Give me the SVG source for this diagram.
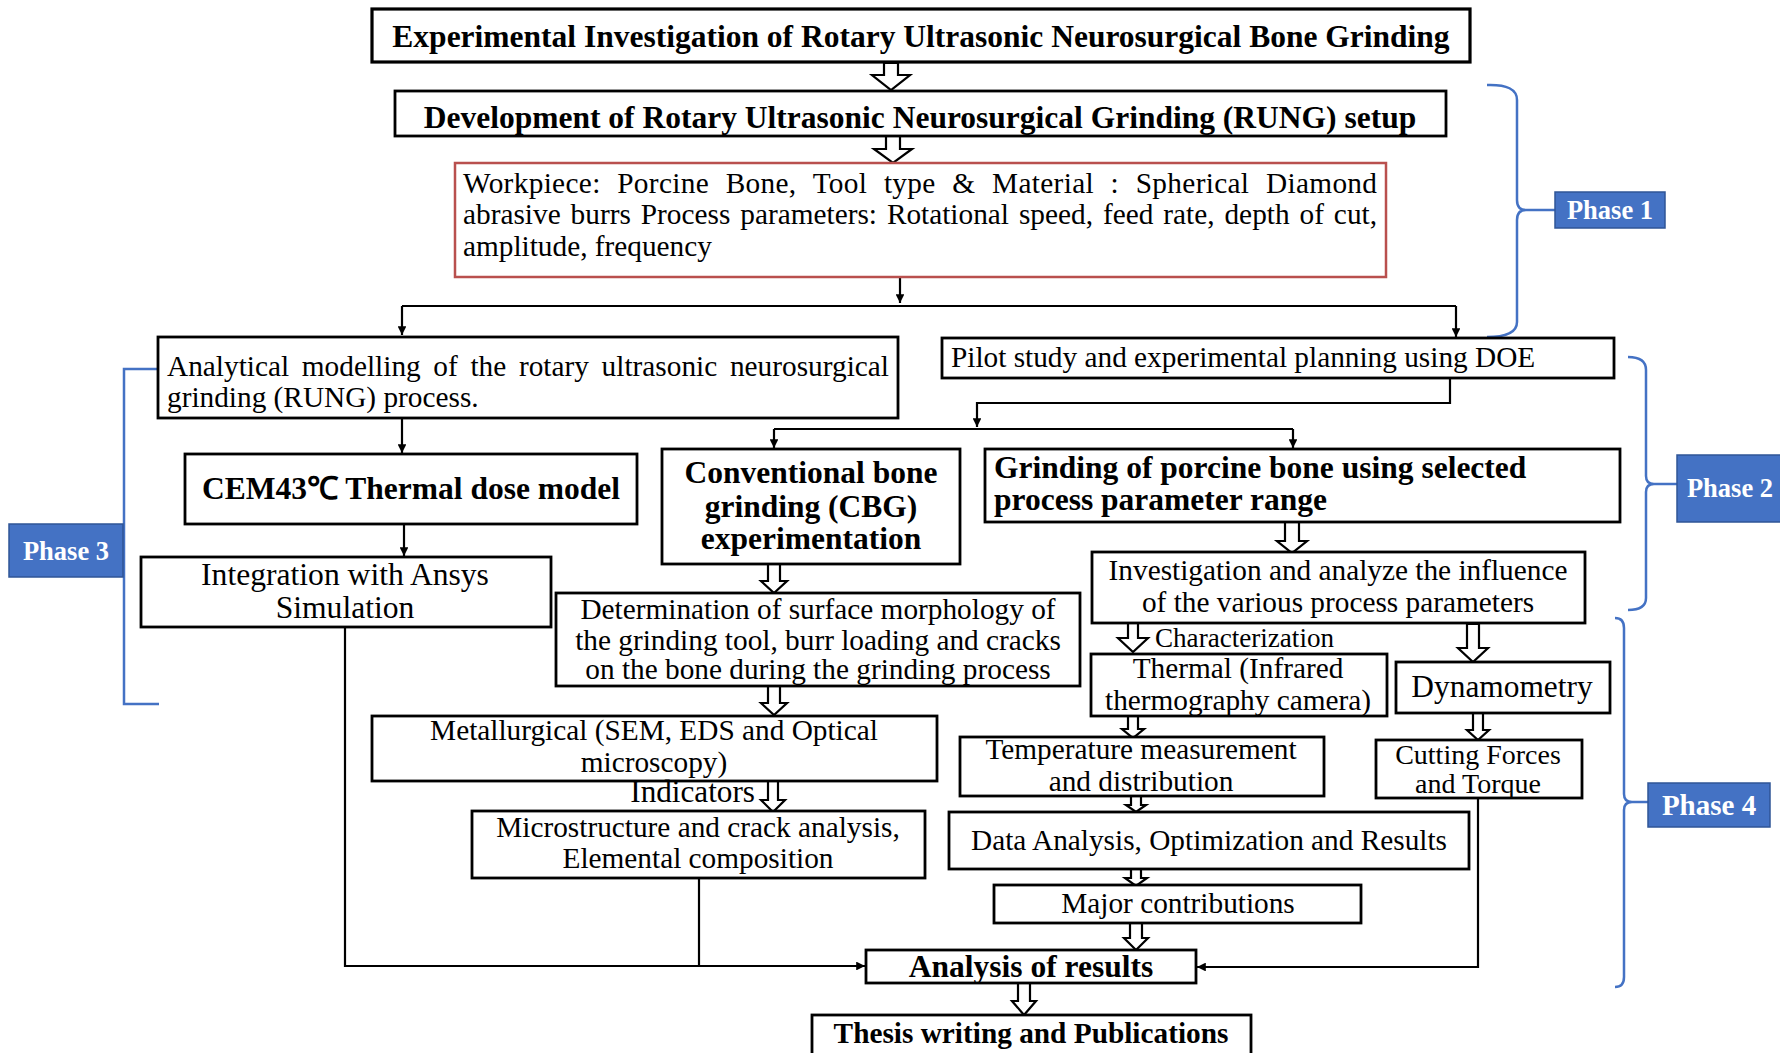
<svg xmlns="http://www.w3.org/2000/svg" width="1780" height="1053" viewBox="0 0 1780 1053">
<defs>
<marker id="ah" viewBox="0 0 10 10" refX="10" refY="5" markerWidth="4" markerHeight="4" orient="auto" markerUnits="strokeWidth">
<path d="M0,0 L10,5 L0,10 z" fill="#000"/>
</marker>
<style>
.box{fill:#fff;stroke:#000;stroke-width:2.8}
.rbox{fill:#fff;stroke:#b9504e;stroke-width:2.5}
.t{font-family:"Liberation Serif","Times New Roman",serif;font-size:29.3px;fill:#000}
.b{font-family:"Liberation Serif","Times New Roman",serif;font-weight:bold;font-size:31.5px;fill:#000}
.c{text-anchor:middle}
.conn{fill:none;stroke:#000;stroke-width:2.2}
.ha{fill:#fff;stroke:#000;stroke-width:2.2;stroke-linejoin:miter}
.brace{fill:none;stroke:#4472c4;stroke-width:2.5}
.pbox{fill:#4472c4;stroke:#2f5597;stroke-width:1.5}
.pt{font-family:"Liberation Serif","Times New Roman",serif;font-weight:bold;font-size:26.5px;fill:#fff;text-anchor:middle}
</style>
</defs>
<rect width="1780" height="1053" fill="#fff"/>

<g id="connectors">
<path class="conn" d="M900,277 V303" marker-end="url(#ah)"/>
<path class="conn" d="M402,306 H1456"/>
<path class="conn" d="M402,306 V335" marker-end="url(#ah)"/>
<path class="conn" d="M1456,306 V337" marker-end="url(#ah)"/>
<path class="conn" d="M1450,378 V403 H977 V427" marker-end="url(#ah)"/>
<path class="conn" d="M774,429 H1293"/>
<path class="conn" d="M774,429 V448" marker-end="url(#ah)"/>
<path class="conn" d="M1293,429 V448" marker-end="url(#ah)"/>
<path class="conn" d="M402,418 V453" marker-end="url(#ah)"/>
<path class="conn" d="M404,524 V556" marker-end="url(#ah)"/>
<path class="conn" d="M345,627 V966 H865" marker-end="url(#ah)"/>
<path class="conn" d="M699,878 V966"/>
<path class="conn" d="M1478,798 V967 H1197" marker-end="url(#ah)"/>
<polygon class="ha" points="884,63 898,63 898,75 910,75 891,90 872,75 884,75"/>
<polygon class="ha" points="886,136 900,136 900,149 912,149 893,163 874,149 886,149"/>
<polygon class="ha" points="768,564 780,564 780,581 787,581 774,593 761,581 768,581"/>
<polygon class="ha" points="768,686 780,686 780,703 787,703 774,715 761,703 768,703"/>
<polygon class="ha" points="768,781 778,781 778,800 785,800 773,812 761,800 768,800"/>
<polygon class="ha" points="1285,522 1299,522 1299,541 1307,541 1292,553 1277,541 1285,541"/>
<polygon class="ha" points="1128,623 1138,623 1138,638 1148,638 1133,652 1118,638 1128,638"/>
<polygon class="ha" points="1467,624 1479,624 1479,648 1488,648 1473,662 1458,648 1467,648"/>
<polygon class="ha" points="1473,713 1483,713 1483,730 1489,730 1478,740 1467,730 1473,730"/>
<polygon class="ha" points="1128,716 1138,716 1138,729 1144,729 1133,738 1122,729 1128,729"/>
<polygon class="ha" points="1131,796 1141,796 1141,805 1146,805 1136,812 1126,805 1131,805"/>
<polygon class="ha" points="1131,869 1141,869 1141,878 1147,878 1136,886 1125,878 1131,878"/>
<polygon class="ha" points="1130,923 1142,923 1142,938 1148,938 1136,950 1124,938 1130,938"/>
<polygon class="ha" points="1018,983 1030,983 1030,1001 1036,1001 1024,1015 1012,1001 1018,1001"/>
</g>

<g id="braces">
<path class="brace" d="M1487,85 Q1517,84 1517,100 V200 Q1517,210 1526,210 Q1517,210 1517,220 V322 Q1517,337 1487,337"/>
<path class="brace" d="M1526,210 H1555"/>
<path class="brace" d="M1628,357 Q1646,357 1646,370 V476 Q1646,484 1654,484 Q1646,484 1646,492 V598 Q1646,610 1628,610"/>
<path class="brace" d="M1654,484 H1677"/>
<path class="brace" d="M1615,618 Q1624,618 1624,628 V794 Q1624,802 1632,802 Q1624,802 1624,810 V977 Q1624,987 1615,987"/>
<path class="brace" d="M1632,802 H1648"/>
<path class="brace" d="M158,369 H124 V704 H159"/>
</g>

<g id="phase1"><rect class="pbox" x="1555" y="192" width="110" height="36"/><text class="pt" x="1610" y="219">Phase 1</text></g>
<g id="phase2"><rect class="pbox" x="1677" y="455" width="106" height="67"/><text class="pt" x="1730" y="497">Phase 2</text></g>
<g id="phase3"><rect class="pbox" x="9" y="524" width="114" height="53"/><text class="pt" x="66" y="560">Phase 3</text></g>
<g id="phase4"><rect class="pbox" x="1648" y="783" width="122" height="44"/><text class="pt" x="1709" y="815" style="font-size:29px">Phase 4</text></g>

<g id="title"><rect class="box" x="372" y="9" width="1098" height="53" style="stroke-width:3.2"/><text class="b c" x="921" y="47">Experimental Investigation of Rotary Ultrasonic Neurosurgical Bone Grinding</text></g>
<g id="setup"><rect class="box" x="395" y="91" width="1051" height="45"/><text class="b c" x="920" y="128">Development of Rotary Ultrasonic Neurosurgical Grinding (RUNG) setup</text></g>
<g id="workpiece"><rect class="rbox" x="455" y="163" width="931" height="114"/>
<text class="t" x="463" y="193" word-spacing="9" textLength="914" lengthAdjust="spacing">Workpiece: Porcine Bone, Tool type &amp; Material : Spherical Diamond</text>
<text class="t" x="463" y="224" word-spacing="2.6" textLength="914" lengthAdjust="spacing">abrasive burrs Process parameters: Rotational speed, feed rate, depth of cut,</text>
<text class="t" x="463" y="256">amplitude, frequency</text></g>
<g id="analytical"><rect class="box" x="158" y="337" width="740" height="81"/>
<text class="t" x="167" y="376" word-spacing="5.3" textLength="722" lengthAdjust="spacing">Analytical modelling of the rotary ultrasonic neurosurgical</text>
<text class="t" x="167" y="407">grinding (RUNG) process.</text></g>
<g id="pilot"><rect class="box" x="942" y="338" width="672" height="40"/><text class="t" x="951" y="367">Pilot study and experimental planning using DOE</text></g>
<g id="cem"><rect class="box" x="185" y="454" width="452" height="70"/><text class="b c" x="411" y="499">CEM43℃ Thermal dose model</text></g>
<g id="integration"><rect class="box" x="141" y="557" width="410" height="70"/>
<text class="t c" x="345" y="585" style="font-size:31.6px">Integration with Ansys</text>
<text class="t c" x="345" y="618" style="font-size:31.6px">Simulation</text></g>
<g id="cbg"><rect class="box" x="662" y="449" width="298" height="115"/>
<text class="b c" x="811" y="483">Conventional bone</text>
<text class="b c" x="811" y="517">grinding (CBG)</text>
<text class="b c" x="811" y="549">experimentation</text></g>
<g id="grinding"><rect class="box" x="985" y="449" width="635" height="73"/>
<text class="b" x="994" y="478">Grinding of porcine bone using selected</text>
<text class="b" x="994" y="510">process parameter range</text></g>
<g id="determination"><rect class="box" x="556" y="593" width="524" height="93"/>
<text class="t c" x="818" y="619">Determination of surface morphology of</text>
<text class="t c" x="818" y="650">the grinding tool, burr loading and cracks</text>
<text class="t c" x="818" y="679">on the bone during the grinding process</text></g>
<g id="investigation"><rect class="box" x="1092" y="552" width="493" height="71"/>
<text class="t c" x="1338" y="580">Investigation and analyze the influence</text>
<text class="t c" x="1338" y="612">of the various process parameters</text></g>
<g id="characterization"><text class="t" x="1155" y="647" style="font-size:27.1px">Characterization</text></g>
<g id="thermal"><rect class="box" x="1091" y="654" width="296" height="62"/>
<text class="t c" x="1238" y="678">Thermal (Infrared</text>
<text class="t c" x="1238" y="710">thermography camera)</text></g>
<g id="dynamometry"><rect class="box" x="1396" y="662" width="214" height="51"/><text class="t c" x="1502" y="697" style="font-size:31.4px">Dynamometry</text></g>
<g id="metallurgical"><rect class="box" x="372" y="716" width="565" height="65"/>
<text class="t c" x="654" y="740">Metallurgical (SEM, EDS and Optical</text>
<text class="t c" x="654" y="772">microscopy)</text></g>
<g id="indicators"><text class="t" x="755" y="802" text-anchor="end" style="font-size:31.2px">Indicators</text></g>
<g id="temperature"><rect class="box" x="960" y="737" width="364" height="59"/>
<text class="t c" x="1141" y="759">Temperature measurement</text>
<text class="t c" x="1141" y="791">and distribution</text></g>
<g id="cutting"><rect class="box" x="1376" y="740" width="206" height="58"/>
<text class="t c" x="1478" y="764" style="font-size:28px">Cutting Forces</text>
<text class="t c" x="1478" y="793" style="font-size:28px">and Torque</text></g>
<g id="microstructure"><rect class="box" x="472" y="811" width="453" height="67"/>
<text class="t c" x="698" y="837">Microstructure and crack analysis,</text>
<text class="t c" x="698" y="868">Elemental composition</text></g>
<g id="data"><rect class="box" x="949" y="812" width="520" height="57"/><text class="t c" x="1209" y="850">Data Analysis, Optimization and Results</text></g>
<g id="major"><rect class="box" x="994" y="885" width="367" height="38"/><text class="t c" x="1178" y="913">Major contributions</text></g>
<g id="analysis"><rect class="box" x="866" y="950" width="330" height="33"/><text class="b c" x="1031" y="977">Analysis of results</text></g>
<g id="thesis"><rect class="box" x="812" y="1015" width="439" height="45"/><text class="b c" x="1031" y="1043" style="font-size:29.3px">Thesis writing and Publications</text></g>
</svg>
